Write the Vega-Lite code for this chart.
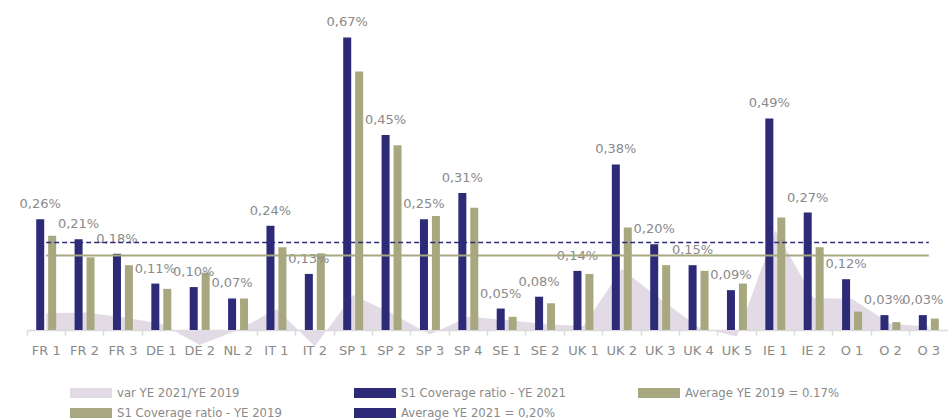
{
  "$schema": "https://vega.github.io/schema/vega-lite/v6.json",
  "width": 921,
  "height": 320,
  "autosize": {"type": "none"},
  "padding": {"left": 27, "top": 10, "right": 0, "bottom": 90},
  "config": {"view": {"stroke": null}, "font": "DejaVu Sans"},
  "datasets": {
    "bars": [
      {"cat": "FR 1", "series": "S1 Coverage ratio - YE 2021", "value": 0.253, "label": "0,26%"},
      {"cat": "FR 1", "series": "S1 Coverage ratio - YE 2019", "value": 0.215},
      {"cat": "FR 2", "series": "S1 Coverage ratio - YE 2021", "value": 0.207, "label": "0,21%"},
      {"cat": "FR 2", "series": "S1 Coverage ratio - YE 2019", "value": 0.166},
      {"cat": "FR 3", "series": "S1 Coverage ratio - YE 2021", "value": 0.174, "label": "0,18%"},
      {"cat": "FR 3", "series": "S1 Coverage ratio - YE 2019", "value": 0.148},
      {"cat": "DE 1", "series": "S1 Coverage ratio - YE 2021", "value": 0.106, "label": "0,11%"},
      {"cat": "DE 1", "series": "S1 Coverage ratio - YE 2019", "value": 0.094},
      {"cat": "DE 2", "series": "S1 Coverage ratio - YE 2021", "value": 0.098, "label": "0,10%"},
      {"cat": "DE 2", "series": "S1 Coverage ratio - YE 2019", "value": 0.131},
      {"cat": "NL 2", "series": "S1 Coverage ratio - YE 2021", "value": 0.072, "label": "0,07%"},
      {"cat": "NL 2", "series": "S1 Coverage ratio - YE 2019", "value": 0.072},
      {"cat": "IT 1", "series": "S1 Coverage ratio - YE 2021", "value": 0.238, "label": "0,24%"},
      {"cat": "IT 1", "series": "S1 Coverage ratio - YE 2019", "value": 0.189},
      {"cat": "IT 2", "series": "S1 Coverage ratio - YE 2021", "value": 0.128, "label": "0,13%"},
      {"cat": "IT 2", "series": "S1 Coverage ratio - YE 2019", "value": 0.175},
      {"cat": "SP 1", "series": "S1 Coverage ratio - YE 2021", "value": 0.668, "label": "0,67%"},
      {"cat": "SP 1", "series": "S1 Coverage ratio - YE 2019", "value": 0.590},
      {"cat": "SP 2", "series": "S1 Coverage ratio - YE 2021", "value": 0.445, "label": "0,45%"},
      {"cat": "SP 2", "series": "S1 Coverage ratio - YE 2019", "value": 0.422},
      {"cat": "SP 3", "series": "S1 Coverage ratio - YE 2021", "value": 0.253, "label": "0,25%"},
      {"cat": "SP 3", "series": "S1 Coverage ratio - YE 2019", "value": 0.260},
      {"cat": "SP 4", "series": "S1 Coverage ratio - YE 2021", "value": 0.313, "label": "0,31%"},
      {"cat": "SP 4", "series": "S1 Coverage ratio - YE 2019", "value": 0.279},
      {"cat": "SE 1", "series": "S1 Coverage ratio - YE 2021", "value": 0.049, "label": "0,05%"},
      {"cat": "SE 1", "series": "S1 Coverage ratio - YE 2019", "value": 0.030},
      {"cat": "SE 2", "series": "S1 Coverage ratio - YE 2021", "value": 0.076, "label": "0,08%"},
      {"cat": "SE 2", "series": "S1 Coverage ratio - YE 2019", "value": 0.061},
      {"cat": "UK 1", "series": "S1 Coverage ratio - YE 2021", "value": 0.135, "label": "0,14%"},
      {"cat": "UK 1", "series": "S1 Coverage ratio - YE 2019", "value": 0.128},
      {"cat": "UK 2", "series": "S1 Coverage ratio - YE 2021", "value": 0.378, "label": "0,38%"},
      {"cat": "UK 2", "series": "S1 Coverage ratio - YE 2019", "value": 0.234},
      {"cat": "UK 3", "series": "S1 Coverage ratio - YE 2021", "value": 0.196, "label": "0,20%"},
      {"cat": "UK 3", "series": "S1 Coverage ratio - YE 2019", "value": 0.148},
      {"cat": "UK 4", "series": "S1 Coverage ratio - YE 2021", "value": 0.148, "label": "0,15%"},
      {"cat": "UK 4", "series": "S1 Coverage ratio - YE 2019", "value": 0.135},
      {"cat": "UK 5", "series": "S1 Coverage ratio - YE 2021", "value": 0.091, "label": "0,09%"},
      {"cat": "UK 5", "series": "S1 Coverage ratio - YE 2019", "value": 0.106},
      {"cat": "IE 1", "series": "S1 Coverage ratio - YE 2021", "value": 0.483, "label": "0,49%"},
      {"cat": "IE 1", "series": "S1 Coverage ratio - YE 2019", "value": 0.257},
      {"cat": "IE 2", "series": "S1 Coverage ratio - YE 2021", "value": 0.268, "label": "0,27%"},
      {"cat": "IE 2", "series": "S1 Coverage ratio - YE 2019", "value": 0.189},
      {"cat": "O 1", "series": "S1 Coverage ratio - YE 2021", "value": 0.116, "label": "0,12%"},
      {"cat": "O 1", "series": "S1 Coverage ratio - YE 2019", "value": 0.042},
      {"cat": "O 2", "series": "S1 Coverage ratio - YE 2021", "value": 0.034, "label": "0,03%"},
      {"cat": "O 2", "series": "S1 Coverage ratio - YE 2019", "value": 0.018},
      {"cat": "O 3", "series": "S1 Coverage ratio - YE 2021", "value": 0.034, "label": "0,03%"},
      {"cat": "O 3", "series": "S1 Coverage ratio - YE 2019", "value": 0.026}
    ],
    "var": [
      {"cat": "FR 1", "value": 0.038}, {"cat": "FR 2", "value": 0.040}, {"cat": "FR 3", "value": 0.029},
      {"cat": "DE 1", "value": 0.014}, {"cat": "DE 2", "value": -0.034}, {"cat": "NL 2", "value": 0.0},
      {"cat": "IT 1", "value": 0.048}, {"cat": "IT 2", "value": -0.037}, {"cat": "SP 1", "value": 0.080},
      {"cat": "SP 2", "value": 0.038}, {"cat": "SP 3", "value": -0.010}, {"cat": "SP 4", "value": 0.030},
      {"cat": "SE 1", "value": 0.023}, {"cat": "SE 2", "value": 0.013}, {"cat": "UK 1", "value": 0.009},
      {"cat": "UK 2", "value": 0.139}, {"cat": "UK 3", "value": 0.071}, {"cat": "UK 4", "value": 0.006},
      {"cat": "UK 5", "value": -0.015}, {"cat": "IE 1", "value": 0.227}, {"cat": "IE 2", "value": 0.073},
      {"cat": "O 1", "value": 0.071}, {"cat": "O 2", "value": 0.014}, {"cat": "O 3", "value": 0.008}
    ],
    "avg21": [
      {"cat": "FR 1", "value": 0.20, "series": "Average YE 2021 = 0,20%"},
      {"cat": "O 3", "value": 0.20, "series": "Average YE 2021 = 0,20%"}
    ],
    "avg19": [
      {"cat": "FR 1", "value": 0.17, "series": "Average YE 2019 = 0.17%"},
      {"cat": "O 3", "value": 0.17, "series": "Average YE 2019 = 0.17%"}
    ]
  },
  "encoding": {
    "x": {
      "field": "cat", "type": "nominal",
      "scale": {"domain": ["FR 1","FR 2","FR 3","DE 1","DE 2","NL 2","IT 1","IT 2","SP 1","SP 2","SP 3","SP 4","SE 1","SE 2","UK 1","UK 2","UK 3","UK 4","UK 5","IE 1","IE 2","O 1","O 2","O 3"], "paddingInner": 0, "paddingOuter": 0},
      "axis": {"title": null, "bandPosition": 0, "labelAngle": 0, "labelFont": "DejaVu Sans", "labelFontSize": 13, "labelColor": "#8a8a8a", "tickColor": "#dadada", "domainColor": "#dadada", "tickSize": 5, "tickWidth": 1.5, "domainWidth": 1.5, "labelPadding": 9}
    },
    "y": {"field": "value", "type": "quantitative", "scale": {"domain": [0, 0.7306], "nice": false, "zero": true}, "axis": null}
  },
  "layer": [
    {
      "data": {"name": "var"},
      "mark": {"type": "area", "opacity": 1, "clip": false},
      "encoding": {
        "y": {"field": "value", "type": "quantitative", "stack": null},
        "color": {"datum": "var YE 2021/YE 2019"}
      }
    },
    {
      "data": {"name": "bars"},
      "mark": {"type": "bar", "clip": false},
      "encoding": {
        "xOffset": {"field": "series", "type": "nominal", "scale": {"domain": ["S1 Coverage ratio - YE 2021", "S1 Coverage ratio - YE 2019"], "paddingInner": 0.33, "paddingOuter": 0.77}},
        "color": {
          "field": "series", "type": "nominal",
          "scale": {
            "domain": ["var YE 2021/YE 2019", "S1 Coverage ratio - YE 2021", "Average YE 2019 = 0.17%", "S1 Coverage ratio - YE 2019", "Average YE 2021 = 0,20%"],
            "range": ["#e2dbe6", "#2d2b77", "#a8a880", "#a8a880", "#2d2b77"]
          },
          "legend": {
            "orient": "none", "legendX": 43, "legendY": 377, "columns": 3, "direction": "horizontal", "title": null,
            "padding": 0, "columnPadding": 72, "rowPadding": 7, "gridAlign": "each", "clipHeight": 12,
            "labelFont": "DejaVu Sans Condensed", "labelFontSize": 13, "labelColor": "#8a8a8a", "labelOffset": 5, "labelLimit": 500,
            "labelExpr": "datum.label === 'S1 Coverage ratio - YE 2019' ? datum.label + '               ' : datum.label",
            "symbolSize": 1764, "symbolType": "M-1,-0.24H1V0.24H-1Z", "symbolStrokeWidth": 0,
            "encode": {
              "symbols": {
                "update": {
                  "shape": {"value": "M-1,-0.24H1V0.24H-1Z", "condition": {"test": "indexof(datum.value, 'Average') === 0", "value": "M-1,0H1"}},
                  "stroke": {"value": "#a8a880", "condition": [
                    {"test": "datum.value === 'Average YE 2021 = 0,20%' || datum.value === 'S1 Coverage ratio - YE 2021'", "value": "#2d2b77"},
                    {"test": "datum.value === 'var YE 2021/YE 2019'", "value": "#e2dbe6"}
                  ]},
                  "strokeDash": {"value": [1, 0], "condition": {"test": "indexof(datum.value, 'Average') === 0", "value": [4, 2]}},
                  "strokeWidth": {"value": 0, "condition": {"test": "indexof(datum.value, 'Average') === 0", "value": 1.5}},
                  "opacity": {"value": 1}
                }
              }
            }
          }
        }
      }
    },
    {
      "data": {"name": "bars"},
      "transform": [{"filter": "isValid(datum.label)"}],
      "mark": {"type": "text", "baseline": "alphabetic", "dy": -11, "font": "DejaVu Sans", "fontSize": 13, "color": "#8a8a8a", "clip": false},
      "encoding": {
        "xOffset": {"field": "series", "type": "nominal"},
        "text": {"field": "label", "type": "nominal"}
      }
    },
    {
      "data": {"name": "avg21"},
      "mark": {"type": "line", "strokeDash": [5, 3], "strokeWidth": 1.5, "clip": false},
      "encoding": {"color": {"field": "series", "type": "nominal"}}
    },
    {
      "data": {"name": "avg19"},
      "mark": {"type": "line", "strokeWidth": 2, "clip": false},
      "encoding": {"color": {"field": "series", "type": "nominal"}}
    }
  ]
}
